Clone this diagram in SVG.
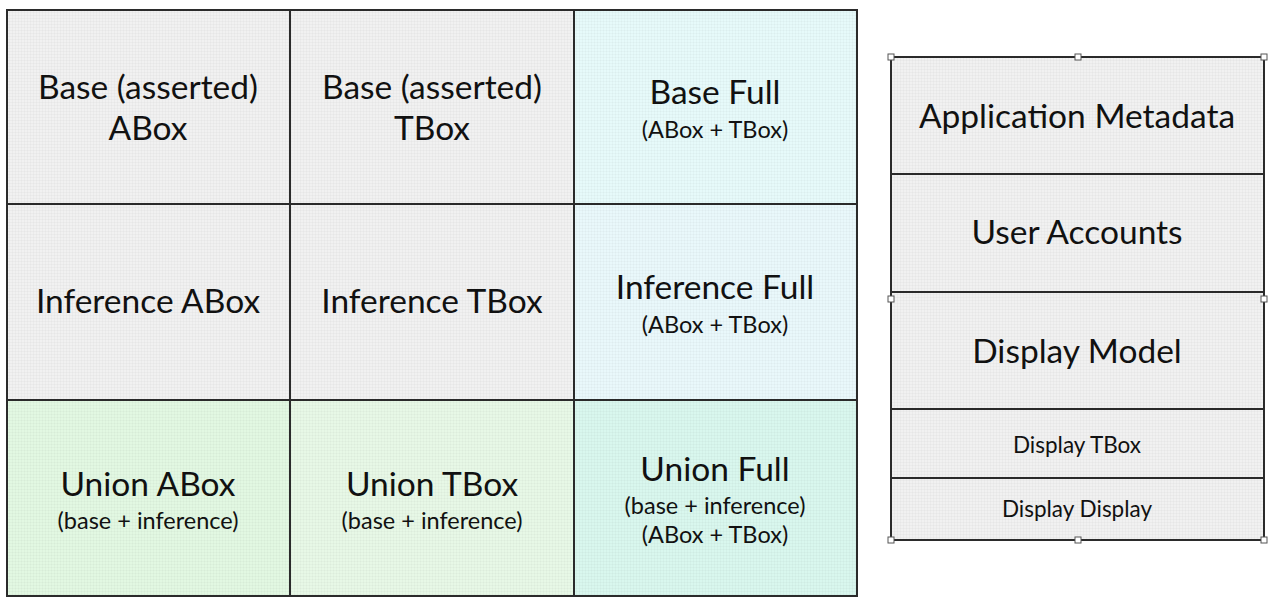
<svg xmlns="http://www.w3.org/2000/svg" width="1284" height="608" viewBox="0 0 1284 608">
<style>
.cell{stroke:#2b2b2b;stroke-width:2}
.g{fill:#f1f1f1}
.t{font-family:Lato,"Open Sans",sans-serif;fill:#111;text-anchor:middle}
.big{font-size:33.5px}
.sm{font-size:23.5px}
.sm2{font-size:22.5px}
.h{fill:#fff;stroke:#555;stroke-width:1}
</style>
<defs>
<pattern id="grid" width="3" height="3" patternUnits="userSpaceOnUse">
<path d="M0 0.5H3M0.5 0V3" stroke="#000" stroke-opacity="0.025" stroke-width="1"/>
</pattern>
</defs>
<rect width="1284" height="608" fill="#fff"/>
<g id="base-abox">
<rect class="cell g" x="7" y="10" width="283" height="194"/>
<text class="t big" x="148" y="99">Base (asserted)</text>
<text class="t big" x="148" y="140">ABox</text>
</g>
<g id="base-tbox">
<rect class="cell g" x="290" y="10" width="284" height="194"/>
<text class="t big" x="432" y="99">Base (asserted)</text>
<text class="t big" x="432" y="140">TBox</text>
</g>
<g id="base-full">
<rect class="cell" fill="#e6fafa" x="574" y="10" width="283" height="194"/>
<text class="t big" x="715" y="104">Base Full</text>
<text class="t sm" x="715" y="138">(ABox + TBox)</text>
</g>
<g id="inference-abox">
<rect class="cell g" x="7" y="204" width="283" height="196"/>
<text class="t big" x="148" y="313">Inference ABox</text>
</g>
<g id="inference-tbox">
<rect class="cell g" x="290" y="204" width="284" height="196"/>
<text class="t big" x="432" y="313">Inference TBox</text>
</g>
<g id="inference-full">
<rect class="cell" fill="#e9f8fb" x="574" y="204" width="283" height="196"/>
<text class="t big" x="715" y="299">Inference Full</text>
<text class="t sm" x="715" y="333">(ABox + TBox)</text>
</g>
<g id="union-abox">
<rect class="cell" fill="#e2f8e2" x="7" y="400" width="283" height="196"/>
<text class="t big" x="148" y="496">Union ABox</text>
<text class="t sm" x="148" y="529">(base + inference)</text>
</g>
<g id="union-tbox">
<rect class="cell" fill="#e7f8e6" x="290" y="400" width="284" height="196"/>
<text class="t big" x="432" y="496">Union TBox</text>
<text class="t sm" x="432" y="529">(base + inference)</text>
</g>
<g id="union-full">
<rect class="cell" fill="#d9f7ee" x="574" y="400" width="283" height="196"/>
<text class="t big" x="715" y="481">Union Full</text>
<text class="t sm" x="715" y="514">(base + inference)</text>
<text class="t sm" x="715" y="543">(ABox + TBox)</text>
</g>
<rect x="7" y="10" width="850" height="586" fill="url(#grid)"/>
<g id="application-metadata">
<rect class="cell g" x="891" y="57" width="373" height="117"/>
<text class="t big" x="1077" y="128">Application Metadata</text>
</g>
<g id="user-accounts">
<rect class="cell g" x="891" y="174" width="373" height="118"/>
<text class="t big" x="1077" y="244">User Accounts</text>
</g>
<g id="display-model">
<rect class="cell g" x="891" y="292" width="373" height="117"/>
<text class="t big" x="1077" y="363">Display Model</text>
</g>
<g id="display-tbox">
<rect class="cell g" x="891" y="409" width="373" height="69"/>
<text class="t sm2" x="1077" y="453">Display TBox</text>
</g>
<g id="display-display">
<rect class="cell g" x="891" y="478" width="373" height="62"/>
<text class="t sm2" x="1077" y="517">Display Display</text>
</g>
<rect x="891" y="57" width="373" height="483" fill="url(#grid)"/>
<g id="handles">
<rect class="h" x="888" y="54" width="6" height="6"/>
<rect class="h" x="1075" y="54" width="6" height="6"/>
<rect class="h" x="1261" y="54" width="6" height="6"/>
<rect class="h" x="888" y="296" width="6" height="6"/>
<rect class="h" x="1261" y="296" width="6" height="6"/>
<rect class="h" x="888" y="537" width="6" height="6"/>
<rect class="h" x="1075" y="537" width="6" height="6"/>
<rect class="h" x="1261" y="537" width="6" height="6"/>
</g>
</svg>
